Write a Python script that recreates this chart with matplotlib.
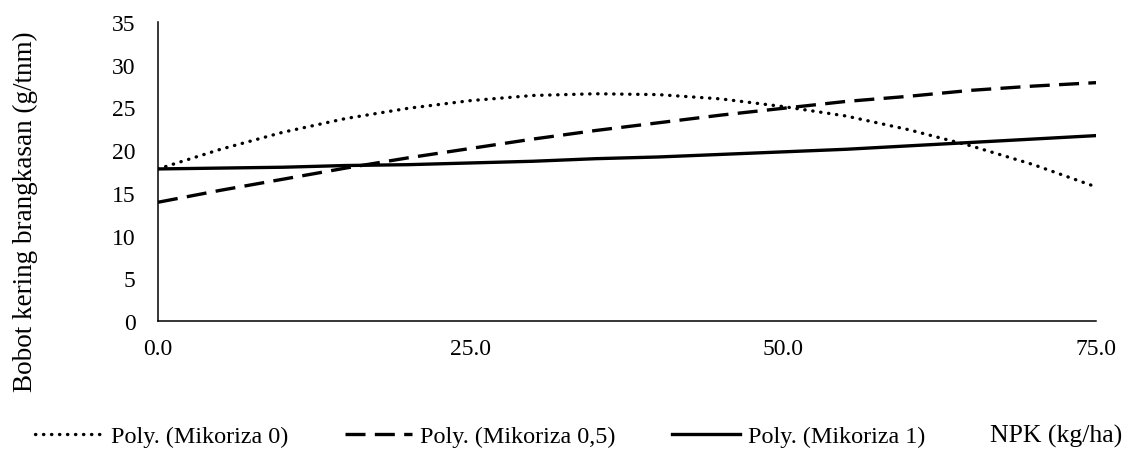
import matplotlib.pyplot as plt

npk = [0, 5, 10, 15, 20, 25, 30, 35, 40, 45, 50, 55, 60, 65, 70, 75]

# Trendline values (g/tnm)
mikoriza_0 = [17.8, 20.1, 22.1, 23.7, 24.9, 25.8, 26.4, 26.6, 26.5, 26.0, 25.1, 24.0,
              22.4, 20.5, 18.3, 15.7]
mikoriza_05 = [13.9, 15.3, 16.6, 17.9, 19.1, 20.2, 21.3, 22.3, 23.2, 24.1, 24.9, 25.7,
               26.3, 27.0, 27.5, 27.9]
mikoriza_1 = [17.8, 17.9, 18.0, 18.2, 18.3, 18.5, 18.7, 19.0, 19.2, 19.5, 19.8, 20.1,
              20.5, 20.9, 21.3, 21.7]

labels = ["Poly. (Mikoriza 0)", "Poly. (Mikoriza 0,5)", "Poly. (Mikoriza 1)"]
x_ticks = [0, 25, 50, 75]
y_ticks = [0, 5, 10, 15, 20, 25, 30, 35]

plt.rcParams["font.family"] = ["Liberation Serif", "DejaVu Serif"]

fig = plt.figure(figsize=(11.27, 4.52), dpi=100)
ax = fig.add_axes([158 / 1127, 1 - 322 / 452, 938 / 1127, 299 / 452])

lw = 2.4
ax.plot(npk, mikoriza_0, color="black", lw=lw, linestyle=(0, (0.1, 2.3)),
        dash_capstyle="round", label=labels[0])
ax.plot(npk, mikoriza_05, color="black", lw=lw, linestyle=(0, (6.0, 2.8)),
        label=labels[1])
ax.plot(npk, mikoriza_1, color="black", lw=lw, linestyle="-", label=labels[2])

ax.set_xlim(0, 75)
ax.set_ylim(0, 35)
ax.set_xticks(x_ticks)
ax.set_xticklabels([f"{v:.1f}" for v in x_ticks])
ax.set_yticks(y_ticks)
ax.tick_params(axis="both", length=0, labelsize=17)
ax.tick_params(axis="x", pad=12.5)
ax.tick_params(axis="y", pad=16)

for side in ["top", "right"]:
    ax.spines[side].set_visible(False)
for side in ["left", "bottom"]:
    ax.spines[side].set_linewidth(1.1)
    ax.spines[side].set_color("black")

fig.text(25 / 1127, 1 - 212 / 452, "Bobot kering brangkasan (g/tnm)", rotation=90,
         ha="center", va="center", fontsize=19.5)

fig.legend(loc="center left", bbox_to_anchor=(35 / 1127, 1 - 437 / 452), ncol=3,
           frameon=False, fontsize=17.4, handlelength=2.8, handletextpad=0.33,
           columnspacing=2.35, borderpad=0, borderaxespad=0)

fig.text(1122 / 1127, 1 - 436 / 452, "NPK (kg/ha)", ha="right", va="center",
         fontsize=18.5)

fig.savefig("out.png", dpi=100)
